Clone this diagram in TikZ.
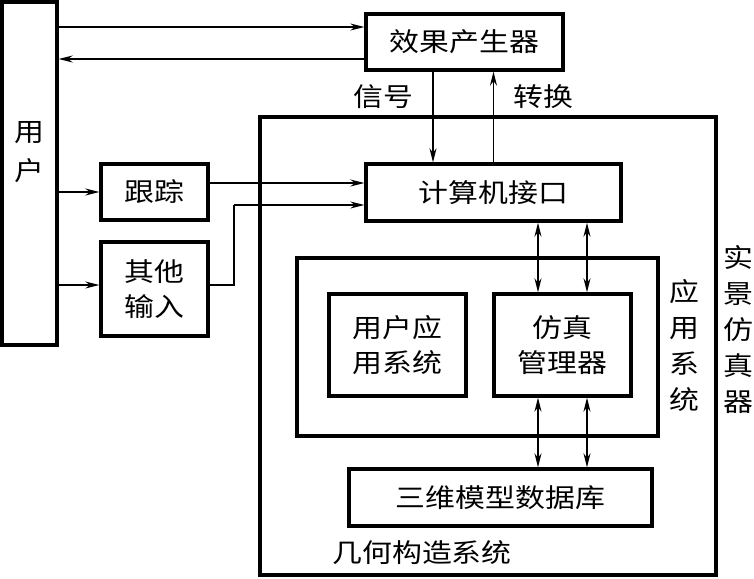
\documentclass[tikz,border=0pt]{standalone}
\usepackage{fontspec}
\setmainfont[FakeStretch=1.15]{Noto Sans CJK SC}
\usetikzlibrary{arrows.meta}
\begin{document}
\begin{tikzpicture}[x=1pt,y=-1pt,
  box/.style={draw,line width=3.4pt,rectangle,inner sep=0pt,font=\fontsize{26}{35}\selectfont,align=center},
  lbl/.style={inner sep=0pt,font=\fontsize{26}{36}\selectfont,align=center},
  arr/.style={line width=1.5pt,-{Stealth[length=14pt,width=7pt,inset=4.5pt]}},
  darr/.style={line width=1.5pt,{Stealth[length=14pt,width=7pt,inset=4.5pt]}-{Stealth[length=14pt,width=7pt,inset=4.5pt]}},
  ln/.style={line width=1.5pt}]
\useasboundingbox (0,0) rectangle (754,578);
\node[box,minimum width=55pt,minimum height=343pt] (user) at (29.5,173.5) {};
\node[lbl,font=\fontsize{26}{39}\selectfont] (userlbl) at (29,152) {用\\户};
\node[box,minimum width=197pt,minimum height=56pt] (effect) at (464.5,42) {效果产生器};
\node[box,minimum width=107pt,minimum height=56pt] (track) at (154.5,192) {跟踪};
\node[box,minimum width=107pt,minimum height=94pt] (other) at (154.5,289) {其他\\输入};
\node[box,minimum width=456pt,minimum height=458pt] (outer) at (488,346) {};
\node[box,minimum width=255pt,minimum height=57pt] (iface) at (493.5,192.5) {计算机接口};
\node[box,minimum width=361pt,minimum height=178pt] (app) at (477.5,347) {};
\node[box,minimum width=137pt,minimum height=102pt] (userapp) at (397.5,345) {用户应\\用系统};
\node[box,minimum width=137pt,minimum height=102pt] (sim) at (562.5,345) {仿真\\管理器};
\node[box,minimum width=303pt,minimum height=57pt] (db) at (500.5,497.5) {三维模型数据库};
\node[lbl] (sig) at (383,97) {信号};
\node[lbl] (conv) at (543,97) {转换};
\node[lbl] (applbl) at (684,345) {应\\用\\系\\统};
\node[lbl] (outlbl) at (738,330) {实\\景\\仿\\真\\器};
\node[lbl] (geo) at (422,553) {几何构造系统};
% user <-> effect
\coordinate (e1) at ([yshift=15pt]effect.west);
\coordinate (e2) at ([yshift=-17pt]effect.west);
\draw[arr] (user.east |- e1) -- (e1);
\draw[arr] (e2) -- (user.east |- e2);
% user -> track / other
\draw[arr] (user.east |- track.west) -- (track.west);
\coordinate (o1) at ([yshift=4pt]other.west);
\draw[arr] (user.east |- o1) -- (o1);
% track/other -> iface
\coordinate (i1) at ([yshift=9.5pt]iface.west);
\coordinate (i2) at ([yshift=-12.5pt]iface.west);
\draw[arr] (track.east |- i1) -- (i1);
\coordinate (o2) at ([yshift=4pt]other.east);
\coordinate (bend) at (234,285);
\draw[ln] (o2) -- (bend |- o2) -- (bend |- i2);
\draw[arr] (bend |- i2) -- (i2);
% effect <-> iface
\coordinate (s1) at ([xshift=-31.5pt]effect.south);
\draw[arr] (s1) -- (s1 |- iface.north);
\draw[arr] (iface.north) -- (iface.north |- effect.south);
% double arrows
\coordinate (d1) at ([xshift=-24.5pt]sim.north);
\coordinate (d2) at ([xshift=24.5pt]sim.north);
\coordinate (d3) at ([xshift=-24.5pt]sim.south);
\coordinate (d4) at ([xshift=24.5pt]sim.south);
\draw[darr] (d1 |- iface.south) -- (d1);
\draw[darr] (d2 |- iface.south) -- (d2);
\draw[darr] (d3) -- (d3 |- db.north);
\draw[darr] (d4) -- (d4 |- db.north);
\end{tikzpicture}
\end{document}
